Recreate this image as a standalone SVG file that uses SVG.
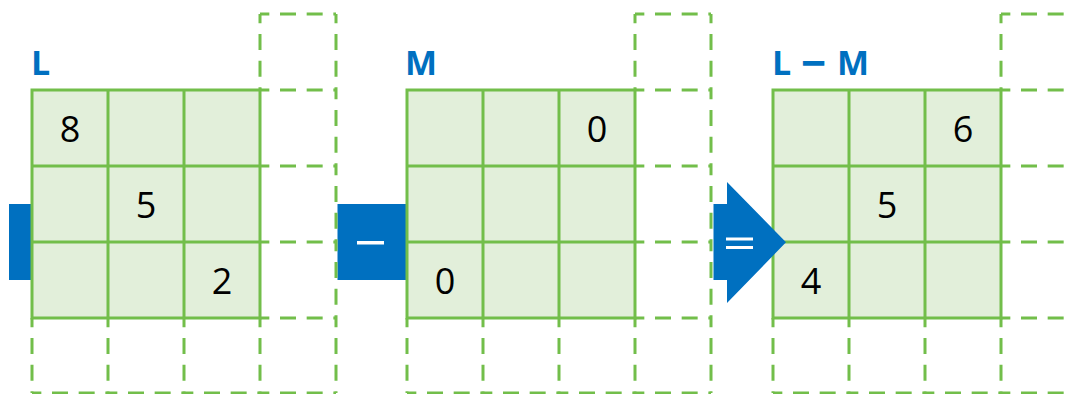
<svg xmlns="http://www.w3.org/2000/svg" width="1072" height="394" viewBox="0 0 1072 394">
<style>
.bg{fill:#ffffff}
.cellfill{fill:#E2EFDA;stroke:none}
.solid{fill:none;stroke:#72BE4A;stroke-width:3}
.dash{fill:none;stroke:#72BE4A;stroke-width:3;stroke-dasharray:16 10.67;stroke-dashoffset:6.67}
.num{font-family:"Open Sans","Liberation Sans",sans-serif;font-size:36px;fill:#000000;text-anchor:middle}
.lbl{font-family:"Open Sans","Liberation Sans",sans-serif;font-size:34px;font-weight:bold;fill:#0070C0}
.op{fill:#0070C0}
.opw{fill:#ffffff}
</style>
<defs>
<g id="gridShape">
<rect class="cellfill" x="0" y="0" width="228" height="228"/>
<path class="dash" d="M228 -76h76M228 0h76M228 76h76M228 152h76M228 228h76M0 303h76M76 303h76M152 303h76M228 303h76M228 -76v76M304 -76v76M304 0v76M304 76v76M304 152v76M304 228v75M0 228v75M76 228v75M152 228v75M228 228v75"/>
<path class="solid" d="M0 0h228v228h-228zM76 0v228M152 0v228M0 76h228M0 152h228"/>
</g>
</defs>
<rect class="bg" x="0" y="0" width="1072" height="394"/>
<g id="op-left">
<rect class="op" x="9" y="204" width="23" height="76"/>
</g>
<g id="op-minus">
<rect class="op" x="337.5" y="204" width="69.5" height="76"/>
<rect class="opw" x="357" y="241" width="27" height="3.5"/>
</g>
<g id="matrix-L">
<use href="#gridShape" transform="translate(32,90)"/>
<text class="lbl" x="31" y="75">L</text>
<text class="num" x="70" y="142">8</text>
<text class="num" x="146" y="218">5</text>
<text class="num" x="222" y="294">2</text>
</g>
<g id="matrix-M">
<use href="#gridShape" transform="translate(407,90)"/>
<text class="lbl" x="405" y="75">M</text>
<text class="num" x="597" y="142">0</text>
<text class="num" x="445" y="294">0</text>
</g>
<g id="matrix-LM">
<use href="#gridShape" transform="translate(773,90)"/>
<text class="lbl" x="772" y="75">L <tspan x="801" y="79" font-size="44">−</tspan> <tspan x="837" y="75">M</tspan></text>
<text class="num" x="963" y="142">6</text>
<text class="num" x="887" y="218">5</text>
<text class="num" x="811" y="294">4</text>
</g>
<g id="op-equals">
<polygon class="op" points="713.5,204 727,204 727,182 786,242.3 727,303 727,280 713.5,280"/>
<rect class="opw" x="726" y="237.5" width="27" height="3"/>
<rect class="opw" x="726" y="246" width="27" height="3"/>
</g>
<g id="connectors"></g>
</svg>
